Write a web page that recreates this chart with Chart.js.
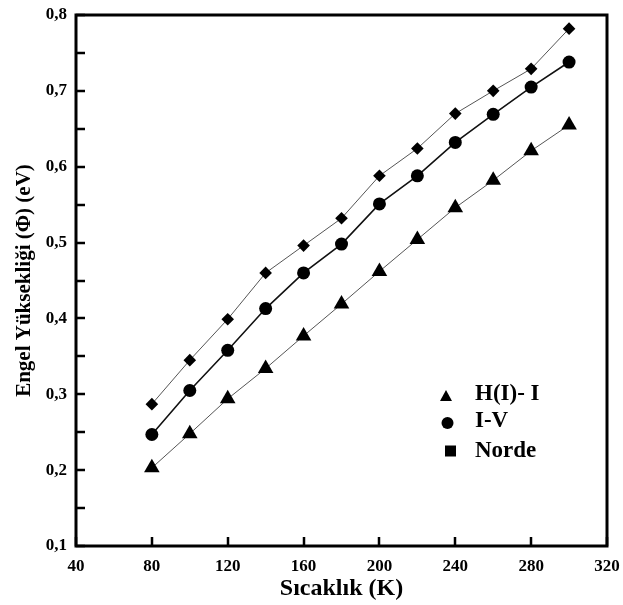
<!DOCTYPE html>
<html>
<head>
<meta charset="utf-8">
<script src="https://cdn.jsdelivr.net/npm/chart.js@4/dist/chart.umd.min.js"></script>
<style>
  html, body { margin: 0; padding: 0; background: #fff; }
  #wrap { width: 623px; height: 605px; position: relative; }
</style>
</head>
<body>
<div id="wrap"><canvas id="c" width="623" height="605"></canvas></div>
<script>
// ---- data ----
const temperatures = [80, 100, 120, 140, 160, 180, 200, 220, 240, 260, 280, 300];
const seriesHI = [0.203, 0.248, 0.294, 0.334, 0.377, 0.419, 0.462, 0.504, 0.546, 0.582, 0.621, 0.655];
const seriesIV = [0.247, 0.305, 0.358, 0.413, 0.460, 0.498, 0.551, 0.588, 0.632, 0.669, 0.705, 0.738];
const seriesNorde = [0.287, 0.345, 0.399, 0.460, 0.496, 0.532, 0.588, 0.624, 0.670, 0.700, 0.729, 0.782];
const labelHI = 'H(I)- I';
const labelIV = 'I-V';
const labelNorde = 'Norde';
const xTitle = 'Sıcaklık (K)';
const yTitle = 'Engel Yüksekliği (Φ) (eV)';

const FONT = '"Liberation Serif", "Times New Roman", serif';

function pts(ys) { return temperatures.map((t, i) => ({ x: t, y: ys[i] })); }

const frame = {
  id: 'frame',
  afterDraw(chart) {
    const { ctx, chartArea: a, scales } = chart;
    ctx.save();
    ctx.strokeStyle = '#000';
    // inward ticks
    ctx.lineWidth = 2.5;
    ctx.beginPath();
    scales.y.ticks.forEach(t => {
      const py = Math.round(scales.y.getPixelForValue(t.value));
      ctx.moveTo(a.left, py); ctx.lineTo(a.left + 9, py);
    });
    scales.x.ticks.forEach(t => {
      const px = Math.round(scales.x.getPixelForValue(t.value));
      ctx.moveTo(px, a.bottom); ctx.lineTo(px, a.bottom - 9);
    });
    ctx.stroke();
    // box
    ctx.lineWidth = 3;
    ctx.strokeRect(a.left, a.top, a.right - a.left, a.bottom - a.top);
    // legend
    const items = [
      { label: chart.data.datasets[0].label, shape: 'tri', mx: 446, my: 396, ty: 400 },
      { label: chart.data.datasets[1].label, shape: 'circ', mx: 447.5, my: 423, ty: 427 },
      { label: chart.data.datasets[2].label, shape: 'sq', mx: 450.5, my: 451, ty: 457 }
    ];
    ctx.fillStyle = '#000';
    items.forEach(it => {
      ctx.beginPath();
      if (it.shape === 'tri') {
        ctx.moveTo(it.mx, it.my - 6); ctx.lineTo(it.mx + 6, it.my + 5); ctx.lineTo(it.mx - 6, it.my + 5); ctx.closePath();
      } else if (it.shape === 'circ') {
        ctx.arc(it.mx, it.my, 6, 0, Math.PI * 2);
      } else {
        ctx.rect(it.mx - 5.5, it.my - 5.5, 11, 11);
      }
      ctx.fill();
      ctx.font = 'bold 23px ' + FONT;
      ctx.textBaseline = 'alphabetic';
      ctx.textAlign = 'left';
      ctx.fillText(it.label, 475, it.ty);
    });
    ctx.restore();
  }
};

new Chart(document.getElementById('c'), {
  type: 'line',
  data: {
    datasets: [
      { label: labelHI, data: pts(seriesHI), borderColor: '#555', borderWidth: 1,
        pointStyle: 'triangle', pointRadius: 9, pointBackgroundColor: '#000', pointBorderColor: '#000', pointBorderWidth: 0 },
      { label: labelIV, data: pts(seriesIV), borderColor: '#111', borderWidth: 1.6,
        pointStyle: 'circle', pointRadius: 6.5, pointBackgroundColor: '#000', pointBorderColor: '#000', pointBorderWidth: 0 },
      { label: labelNorde, data: pts(seriesNorde), borderColor: '#555', borderWidth: 1,
        pointStyle: 'rectRot', pointRadius: 6.3, pointBackgroundColor: '#000', pointBorderColor: '#000', pointBorderWidth: 0 }
    ]
  },
  options: {
    responsive: false,
    animation: false,
    layout: { padding: { left: 0, right: 16, top: 15, bottom: 2 } },
    elements: { line: { tension: 0 } },
    plugins: { legend: { display: false }, tooltip: { enabled: false } },
    scales: {
      x: {
        type: 'linear', min: 40, max: 320,
        grid: { display: false, drawTicks: false }, border: { display: false },
        ticks: { stepSize: 40, autoSkip: false, maxRotation: 0, padding: 10, color: '#000',
                 font: { family: FONT, size: 17, weight: 'bold' } },
        title: { display: true, text: xTitle, color: '#000', padding: { top: 0, bottom: 0 },
                 font: { family: FONT, size: 24, weight: 'bold' } },
        afterFit(s) { s.height = 605 - 546 - 2; s.paddingLeft = 0; s.paddingRight = 0; }
      },
      y: {
        type: 'linear', min: 0.1, max: 0.8,
        grid: { display: false, drawTicks: false }, border: { display: false },
        ticks: { stepSize: 0.05, autoSkip: false, padding: 9, color: '#000',
                 font: { family: FONT, size: 17, weight: 'bold' },
                 callback: v => (Math.abs(Math.round(v * 10) - v * 10) < 1e-6) ? v.toFixed(1).replace('.', ',') : '' },
        title: { display: true, text: yTitle, color: '#000', padding: { top: 12, bottom: 0 },
                 font: { family: FONT, size: 21, weight: 'bold' } },
        afterFit(s) { s.width = 76; s.paddingTop = 0; s.paddingBottom = 0; }
      }
    }
  },
  plugins: [frame]
});
</script>
</body>
</html>
